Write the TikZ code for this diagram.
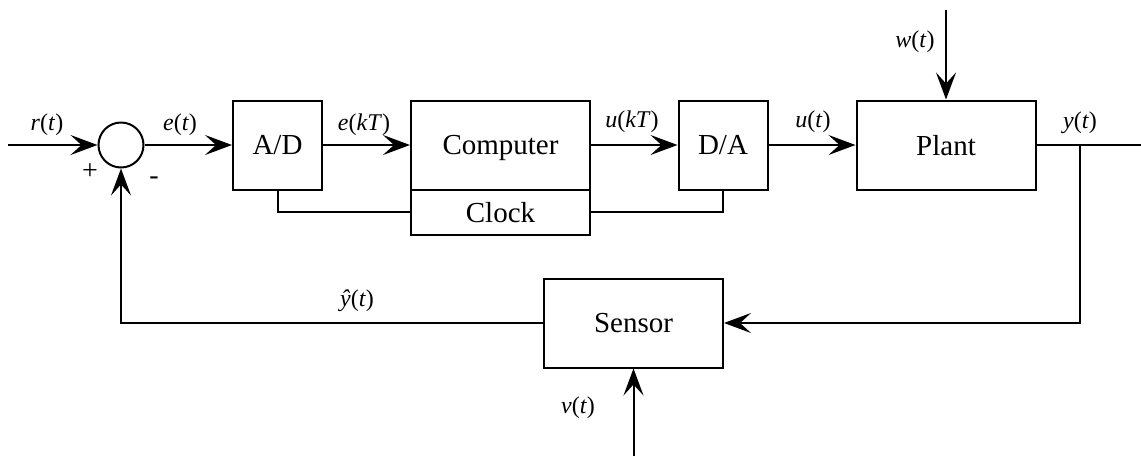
\documentclass[tikz,border=0pt]{standalone}
\usepackage{fontspec}
\setmainfont{Liberation Serif}
\usetikzlibrary{arrows.meta, positioning}

\newcommand{\sig}[2]{\textit{#1}(\textit{#2})}

\begin{document}
\begin{tikzpicture}
		[x=0.5pt, y=-0.5pt,
		line width=1pt,
		>={Stealth[length=13.5pt, width=10pt, inset=5.5pt]},
		blk/.style = {draw=black, rectangle, line width=1pt, minimum width=89.5pt, minimum height=44.5pt, text depth=0pt, font=\fontsize{14.5}{17}\selectfont, inner sep=0pt},
		sblk/.style = {blk, minimum width=44.5pt},
		sum/.style = {draw=black, circle, line width=1pt, minimum size=22.5pt, inner sep=0pt},
		lab/.style = {font=\fontsize{12}{14}\selectfont, inner sep=0pt}]
		
		\useasboundingbox (0,0) rectangle (1141,456);
		
		% blocks
		\node[sum] (sum) at (121,145) {};
		\node[sblk] (AD) at (277.5,145) {A/D};
		\node[blk] (comp) at (500.5,145) {Computer};
		\node[blk, minimum height=22.5pt] (clock) at (500.5,212) {Clock};
		\node[sblk] (DA) at (723,145) {D/A};
		\node[blk] (plant) at (946,145) {Plant};
		\node[blk] (sensor) at (633.5,323) {Sensor};
		
		% free ends
		\coordinate (rin) at (8,145);
		\coordinate (win) at (946,10);
		\coordinate (vin) at (633.5,456);
		\coordinate (yout) at (1141,145);
		\coordinate (yj) at (1080,145);
		
		% signal labels
		\foreach \x/\y/\alph/\name in {
			47/125/lr/\sig{r}{t},
			180/125/le/\sig{e}{t},
			364/125/lekT/\sig{e}{kT},
			632/122/lukT/\sig{u}{kT},
			813/122/lu/\sig{u}{t},
			915/42/lw/\sig{w}{t},
			1080/123/ly/\sig{y}{t},
			357/301/lyh/\sig{ŷ}{t},
			578/408/lv/\sig{v}{t}
		}{
			\node[lab] (\alph) at (\x,\y) {\name};
		}
		\node[lab, font=\fontsize{14}{16}\selectfont] (plus) at (90,172) {+};
		\node[lab, font=\fontsize{14}{16}\selectfont] (minus) at (154,181) {-};
		
		% forward path
		\draw[->] (rin) -- (sum);
		\draw[->] (sum) -- (AD);
		\draw[->] (AD) -- (comp);
		\draw[->] (comp) -- (DA);
		\draw[->] (DA) -- (plant);
		\draw (plant) -- (yout);
		\draw[->] (win) -- (plant);
		
		% clock lines
		\draw (AD.south) |- (clock.west);
		\draw (clock.east) -| (DA.south);
		
		% feedback
		\draw[->] (yj) |- (sensor.east);
		\draw[->] (sensor.west) -| (sum.south);
		\draw[->] (vin) -- (sensor.south);
	\end{tikzpicture}
\end{document}
